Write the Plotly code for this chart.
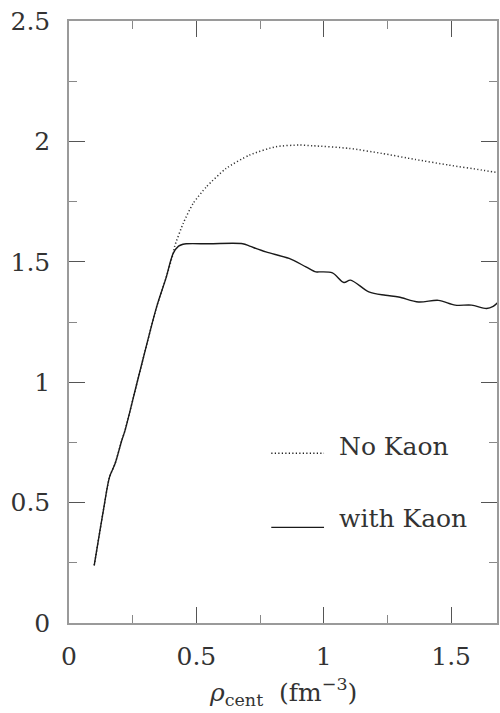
import plotly.graph_objects as go

# Central density (fm^-3) and maximum mass for the two equations of state
rho_kaon = [0.099, 0.135, 0.159, 0.181, 0.207, 0.22, 0.27, 0.344, 0.38, 0.409, 0.43, 0.448,
            0.46, 0.55, 0.682, 0.709, 0.773, 0.864, 0.93, 0.969, 0.982, 1.034, 1.079,
            1.105, 1.177, 1.242, 1.294, 1.372, 1.45, 1.516, 1.58, 1.639, 1.665, 1.685]
mass_kaon = [0.239, 0.468, 0.606, 0.662, 0.758, 0.80, 1.01, 1.313, 1.43, 1.535, 1.565, 1.573,
             1.575, 1.575, 1.575, 1.565, 1.541, 1.514, 1.479, 1.458, 1.458, 1.454, 1.414,
             1.424, 1.375, 1.361, 1.354, 1.333, 1.340, 1.320, 1.320, 1.306, 1.315, 1.333]

rho_nokaon = [0.099, 0.135, 0.159, 0.181, 0.207, 0.22, 0.27, 0.344, 0.38, 0.409, 0.415,
              0.448, 0.487, 0.539, 0.617, 0.708, 0.812, 0.904, 0.956, 1.099, 1.229, 1.359,
              1.489, 1.62, 1.685]
mass_nokaon = [0.239, 0.468, 0.606, 0.662, 0.758, 0.80, 1.01, 1.313, 1.43, 1.535, 1.565,
               1.659, 1.742, 1.811, 1.888, 1.943, 1.978, 1.985, 1.982, 1.971, 1.950, 1.925,
               1.902, 1.881, 1.870]

legend_labels = ["No Kaon", "with Kaon"]

FONT = "DejaVu Serif"
INK = "#333333"

fig = go.Figure()
fig.add_trace(go.Scatter(x=rho_nokaon, y=mass_nokaon, mode="lines",
                         line=dict(color="#333333", width=1.5, dash="1.2px,2.3px",
                                   shape="spline", smoothing=0.6),
                         showlegend=False, hoverinfo="skip"))
fig.add_trace(go.Scatter(x=rho_kaon, y=mass_kaon, mode="lines",
                         line=dict(color="#1a1a1a", width=1.4, shape="spline", smoothing=0.9),
                         showlegend=False, hoverinfo="skip"))

# In-plot key: short line samples with labels
key_x0, key_x1, key_tx = 0.794, 1.001, 1.051
key_rows = [(0.705, 0.733, "1.2px,2.3px"), (0.397, 0.434, "solid")]
for (ly, ty, dash), label in zip(key_rows, legend_labels):
    fig.add_shape(type="line", x0=key_x0, x1=key_x1, y0=ly, y1=ly, xref="x", yref="y",
                  line=dict(color="#1a1a1a", width=1.4, dash=dash))
    fig.add_annotation(x=key_tx, y=ty, xref="x", yref="y", text=label, showarrow=False,
                       xanchor="left", yanchor="middle",
                       font=dict(family=FONT, size=25, color=INK))

fig.add_annotation(x=0.5, y=-0.115, xref="paper", yref="paper",
                   text="<i>ρ</i><sub>cent</sub>  (fm<sup>−3</sup>)", showarrow=False,
                   xanchor="center", yanchor="middle",
                   font=dict(family=FONT, size=25, color=INK))

axis_common = dict(showgrid=False, zeroline=False, showline=True, linecolor="#9a9a9a",
                   linewidth=1.5, mirror="allticks", ticks="inside", ticklen=16,
                   tickwidth=1.3, tickcolor="#555555",
                   tickfont=dict(family=FONT, size=25, color=INK),
                   minor=dict(ticks="inside", ticklen=8, tickwidth=1.3, tickcolor="#888888",
                              dtick=0.25, showgrid=False))

fig.update_xaxes(range=[0, 1.68], tickmode="array", tickvals=[0, 0.5, 1, 1.5],
                 ticktext=["0", "0.5", "1", "1.5"], ticklabelstandoff=10, **axis_common)
fig.update_yaxes(range=[0, 2.5], tickmode="array", tickvals=[0, 0.5, 1, 1.5, 2, 2.5],
                 ticktext=["0", "0.5", "1", "1.5", "2", "2.5"], ticklabelstandoff=12,
                 **axis_common)

fig.update_layout(width=500, height=713, margin=dict(l=69, r=1, t=21, b=90),
                  paper_bgcolor="white", plot_bgcolor="white", showlegend=False)

fig.write_html("out.html")
